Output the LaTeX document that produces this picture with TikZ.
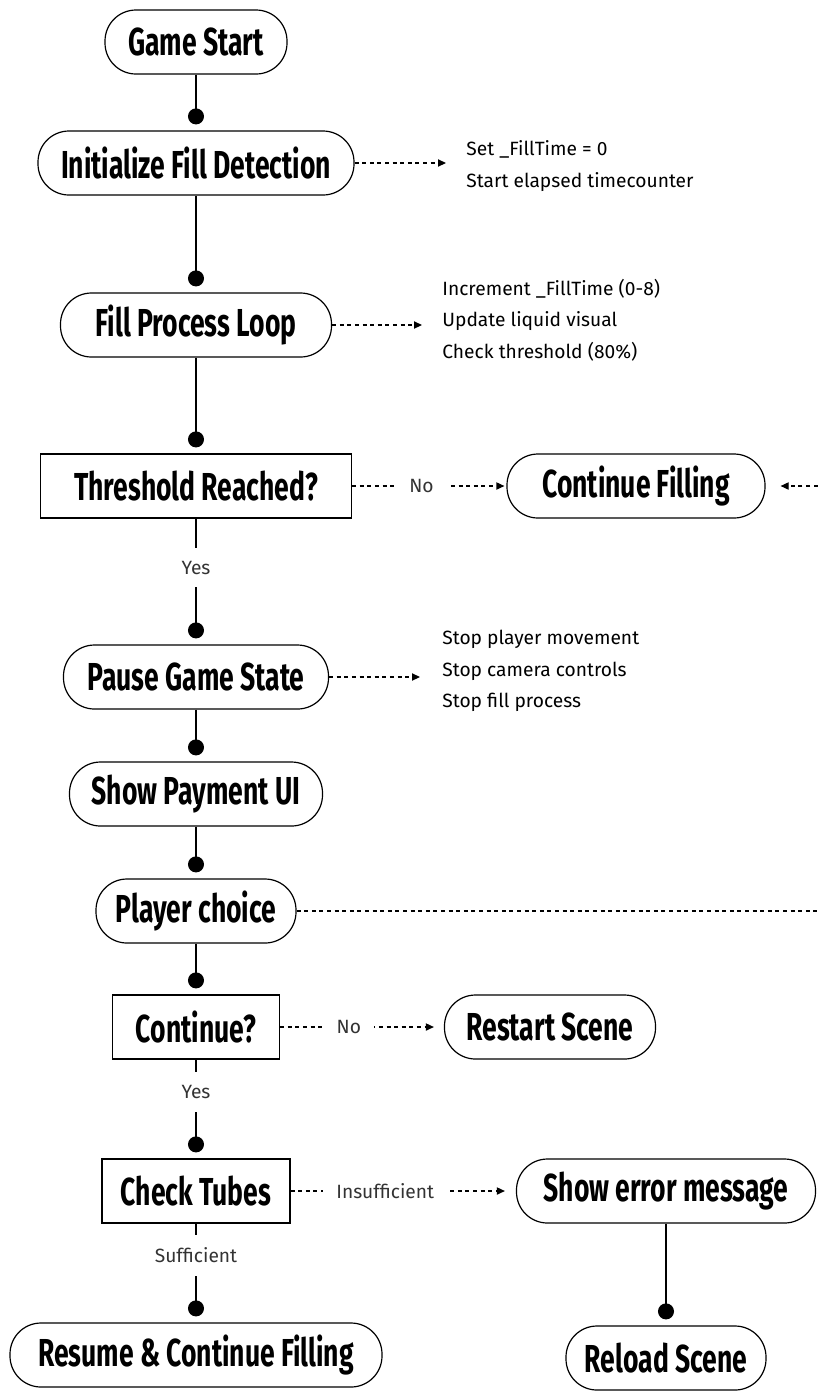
\documentclass[tikz,border=0pt]{standalone}
\usepackage{fontspec}
\setmainfont{Fira Sans}
\newfontfamily\boxfont[FakeStretch=0.68]{Fira Sans}
\usepackage{tikz}
\usetikzlibrary{arrows.meta,positioning,calc}
\definecolor{labelgray}{rgb}{0.2, 0.2, 0.2}

\tikzset{
	state/.style={draw, line width=.6pt, rounded corners=15.5pt, minimum height=32pt, inner sep=0pt, font=\boxfont\bfseries\fontsize{19.5}{21}\selectfont},
	check/.style={draw, line width=.6pt, minimum height=32pt, inner sep=0pt, font=\boxfont\bfseries\fontsize{19.5}{21}\selectfont},
	flow/.style={line width=.6pt, -{Circle[length=8pt]}, shorten >=3pt},
	side/.style={line width=.6pt, dash pattern=on 2pt off 1.8pt, -{Triangle[length=4pt,width=3.6pt]}},
	lbl/.style={fill=white, inner sep=6.5pt, text=labelgray, font=\fontsize{9.6}{11}\selectfont},
	note/.style={anchor=west, align=left, inner sep=0pt, font=\fontsize{9.6}{15.8}\selectfont}
}

\begin{document}
\begin{tikzpicture}[x=0.5pt,y=-0.5pt]
	\useasboundingbox (0,0) rectangle (819,1394);
	\clip (0,0) rectangle (819,1394);
	
	% main column
	\node[state, minimum width=91pt] (start) at (196,42) {Game Start};
	\node[state, minimum width=158pt] (init) at (196,163) {Initialize Fill Detection};
	\node[state, minimum width=135.5pt] (loop) at (196,325) {Fill Process Loop};
	\node[check, minimum width=155.5pt] (thresh) at (196,486) {Threshold Reached?};
	\node[state, minimum width=132.5pt] (pause) at (196,677) {Pause Game State};
	\node[state, minimum width=126.5pt] (pay) at (196,794) {Show Payment UI};
	\node[state, minimum width=100pt] (choice) at (196,911) {Player choice};
	\node[check, minimum width=83.5pt] (cont) at (196,1027) {Continue?};
	\node[check, minimum width=94pt] (tubes) at (196,1191) {Check Tubes};
	\node[state, minimum width=186pt] (resume) at (196,1355) {Resume \& Continue Filling};
	
	% right side
	\node[state, minimum width=129pt] (fillon) at (636,486) {Continue Filling};
	\node[state, minimum width=105.5pt] (restart) at (550,1027) {Restart Scene};
	\node[state, minimum width=149.5pt] (error) at (666,1191) {Show error message};
	\node[state, minimum width=100pt] (reload) at (666,1358) {Reload Scene};
	\coordinate (turn) at (850,0);
	
	\node[note] (n1) at (466,166) {Set \_FillTime = 0\\Start elapsed timecounter};
	\node[note] (n2) at (442,320) {Increment \_FillTime (0-8)\\Update liquid visual\\Check threshold (80\%)};
	\node[note] (n3) at (442,671) {Stop player movement\\Stop camera controls\\Stop fill process};
	
	\draw[flow] (start) -- (init);
	\draw[flow] (init) -- (loop);
	\draw[flow] (loop) -- (thresh);
	\draw[flow] (thresh) -- (pause) node[lbl, pos=.39] {Yes};
	\draw[flow] (pause) -- (pay);
	\draw[flow] (pay) -- (choice);
	\draw[flow] (choice) -- (cont);
	\draw[flow] (cont) -- (tubes) node[lbl, pos=.33] {Yes};
	\draw[flow] (tubes) -- (resume) node[lbl, pos=.32] {Sufficient};
	\draw[flow] (error) -- (reload);
	
	\draw[side, shorten >=10pt] (init.east) -- (init.east -| n1.west);
	\draw[side, shorten >=10pt] (loop.east) -- (loop.east -| n2.west);
	\draw[side, shorten >=11pt] (pause.east) -- (pause.east -| n3.west);
	
	\draw[side, shorten >=1pt] (thresh) -- (fillon) node[lbl, pos=.45] {No};
	\draw[side, shorten >=5pt] (cont) -- (restart) node[lbl, pos=.42] {No};
	\draw[side, shorten >=5.5pt] (tubes) -- (error) node[lbl, pos=.42] {Insufficient};
	\draw[side, shorten >=7.5pt] (choice.east) -- (choice.east -| turn) |- (fillon.east);
\end{tikzpicture}
\end{document}
